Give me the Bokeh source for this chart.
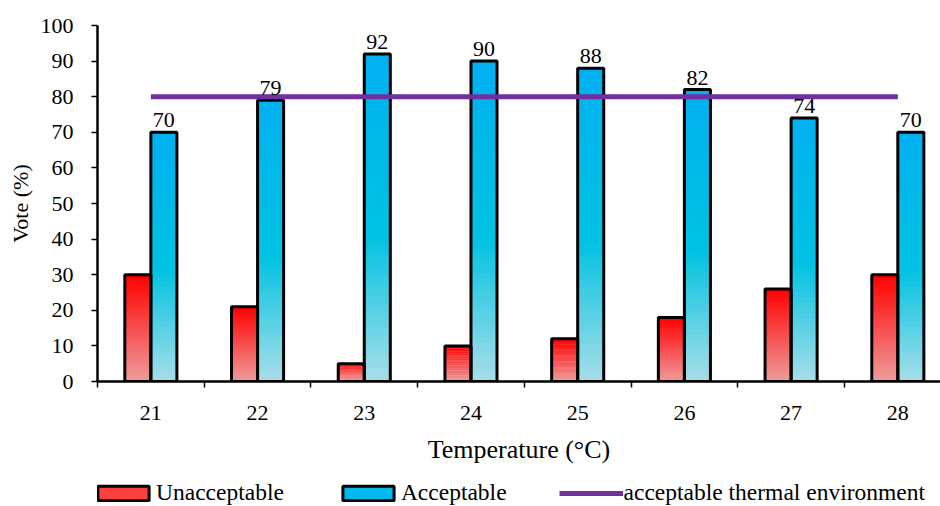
from bokeh.plotting import figure
from bokeh.models import (Range1d, FixedTicker, Legend, LegendItem)
from bokeh.layouts import column
from bokeh.embed import file_html
from bokeh.resources import INLINE
from bokeh.core.properties import value

# ---- data ----
temperatures = ["21", "22", "23", "24", "25", "26", "27", "28"]
unacceptable = [30, 21, 5, 10, 12, 18, 26, 30]
acceptable = [70, 79, 92, 90, 88, 82, 74, 70]
threshold = 80

FONT = "Liberation Serif"

p = figure(width=940, height=474, output_backend="svg", toolbar_location=None,
           x_range=Range1d(0, 7.9), y_range=Range1d(0, 100),
           min_border_left=97, min_border_right=0, min_border_top=25, min_border_bottom=93)
p.outline_line_color = None
p.grid.grid_line_color = None
p.background_fill_color = "white"
p.border_fill_color = "white"

centers = [i + 0.5 for i in range(len(temperatures))]
bw = 0.244


def lerp(c1, c2, t):
    return tuple(int(round(a + (b - a) * t)) for a, b in zip(c1, c2))


def hexc(c):
    return "#%02x%02x%02x" % c


def red_color(t):  # t: 0 bottom, 1 top
    return hexc(lerp((238, 156, 156), (255, 0, 0), t))


def blue_color(t):
    if t >= 0.45:
        return hexc(lerp((0, 194, 226), (0, 176, 240), (t - 0.45) / 0.55))
    return hexc(lerp((168, 222, 232), (0, 194, 226), t / 0.45))


N = 50
gl, gr, gb, gt, gc = [], [], [], [], []
for c, u, a in zip(centers, unacceptable, acceptable):
    for vals, left, fn in ((u, c - bw, red_color), (a, c, blue_color)):
        for k in range(N):
            gl.append(left)
            gr.append(left + bw)
            gb.append(vals * k / N)
            gt.append(vals * min(k + 1.6, N) / N)
            gc.append(fn((k + 0.5) / N))
p.quad(left=gl, right=gr, bottom=gb, top=gt, fill_color=gc, line_color=None)

# outlines on top
p.quad(left=[c - bw for c in centers], right=centers, bottom=0, top=unacceptable,
       fill_color=None, line_color="black", line_width=3)
p.quad(left=centers, right=[c + bw for c in centers], bottom=0, top=acceptable,
       fill_color=None, line_color="black", line_width=3)

# threshold line
p.line(centers, [threshold] * len(centers), line_color="#7030A0", line_width=5)

# data labels
p.text(x=[c + bw / 2 for c in centers], y=acceptable, text=[str(v) for v in acceptable],
       text_align="center", text_baseline="bottom", y_offset=-5,
       text_font=value(FONT), text_font_size="22px", text_color="black")

# axes
xa = p.xaxis[0]
xa.ticker = FixedTicker(ticks=centers, minor_ticks=list(range(0, 9)))
xa.major_label_overrides = {c: t for c, t in zip(centers, temperatures)}
xa.major_tick_out = 0
xa.major_tick_in = 0
xa.minor_tick_out = 6
xa.minor_tick_in = 0
xa.minor_tick_line_color = "black"
xa.minor_tick_line_width = 1.5
xa.axis_line_width = 2.5
xa.axis_line_color = "black"
xa.major_label_text_font = FONT
xa.major_label_text_font_size = "22px"
xa.major_label_text_color = "black"
xa.major_label_standoff = 18
xa.axis_label = "Temperature (°C)"
xa.axis_label_text_font = FONT
xa.axis_label_text_font_size = "26px"
xa.axis_label_text_font_style = "normal"
xa.axis_label_text_color = "black"
xa.axis_label_standoff = 12

ya = p.yaxis[0]
ya.ticker = FixedTicker(ticks=list(range(0, 101, 10)))
ya.major_tick_out = 6
ya.major_tick_in = 0
ya.major_tick_line_width = 1.5
ya.minor_tick_out = 0
ya.minor_tick_in = 0
ya.axis_line_width = 2.5
ya.axis_line_color = "black"
ya.major_label_text_font = FONT
ya.major_label_text_font_size = "22px"
ya.major_label_text_color = "black"
ya.major_label_standoff = 18
ya.axis_label = "Vote (%)"
ya.axis_label_text_font = FONT
ya.axis_label_text_font_size = "22px"
ya.axis_label_text_font_style = "normal"
ya.axis_label_text_color = "black"
ya.axis_label_standoff = 5

# ---- legend strip (separate small figure) ----
q = figure(width=940, height=32, output_backend="svg", toolbar_location=None,
           x_axis_location=None, y_axis_location=None,
           x_range=Range1d(-2, -1), y_range=Range1d(-2, -1),
           min_border_left=0, min_border_right=0, min_border_top=0, min_border_bottom=0)
q.grid.grid_line_color = None
q.outline_line_color = None
r_red = q.quad(left=[c - bw for c in centers], right=centers, bottom=0, top=unacceptable,
               fill_color="#FF4040", line_color="black", line_width=3, visible=False)
r_blue = q.quad(left=centers, right=[c + bw for c in centers], bottom=0, top=acceptable,
                fill_color="#00B8EC", line_color="black", line_width=3, visible=False)
r_line = q.line(centers, [threshold] * len(centers), line_color="#7030A0", line_width=5,
                visible=False)

legend = Legend(items=[
    LegendItem(label="Unacceptable", renderers=[r_red]),
    LegendItem(label="Acceptable", renderers=[r_blue]),
    LegendItem(label="acceptable thermal environment", renderers=[r_line]),
], orientation="horizontal", location=(-6, 0))
legend.label_text_font = FONT
legend.label_text_font_size = "23.5px"
legend.label_text_color = "black"
legend.glyph_width = 64
legend.glyph_height = 18
legend.spacing = 52
legend.label_standoff = 1
legend.border_line_color = None
legend.background_fill_alpha = 0
legend.inactive_fill_alpha = 0
legend.padding = 0
legend.margin = 0
q.add_layout(legend, "center")

open("out.html", "w").write(file_html(column(p, q, spacing=0), INLINE))
